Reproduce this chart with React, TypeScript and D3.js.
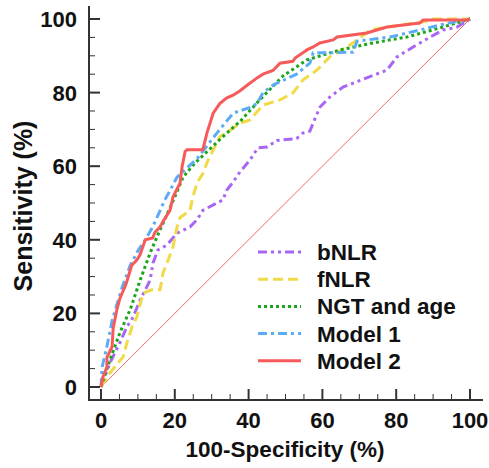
import React from "react";
import * as d3 from "d3";

const xTicks = [0, 20, 40, 60, 80, 100];
const yTicks = [0, 20, 40, 60, 80, 100];

const seriesNames = ["bNLR", "fNLR", "NGT and age", "Model 1", "Model 2"];
const seriesColors = ["#a866f2", "#f0da48", "#1aa61a", "#5cabf5", "#f75a5a"];
const seriesDash = ["9,4,3,4,3,4", "10,5", "3,3", "9,4,3,4", ""];

const bNLR_x = [0, 2.4, 5.1, 7, 8.7, 10.6, 13.3, 14.1, 15.4, 17.9, 20.6, 24.1, 26, 27.6, 28.7, 31.4, 33, 34.1, 35.8, 37.7, 40.4, 42.5, 45, 47.7, 53, 54.7, 56.6, 57.5, 59.3, 62, 65.6, 72, 77.5, 80.2, 84.6, 89.2, 92.7, 96.5, 100];
const bNLR_y = [0, 6.5, 12, 16.3, 19, 23.6, 29, 33.7, 37.2, 38.6, 41.8, 43.5, 45.4, 48, 48.6, 50, 50.8, 53.5, 55.7, 58.5, 61.7, 65, 65.2, 67, 67.5, 69, 69.5, 71.7, 76, 78.8, 81.5, 84, 86.1, 89.7, 92.4, 95.1, 97, 97.8, 100];

const fNLR_x = [0, 2.4, 6, 7, 8.4, 9.7, 11.4, 13.8, 16, 16.8, 18.2, 19.5, 20.6, 21.4, 24.1, 24.9, 26, 27.6, 28.7, 30.4, 32.2, 35, 37.7, 40.4, 43.9, 48.5, 52, 54.7, 58.5, 62, 66.7, 69.4, 73, 76.4, 89, 90, 100];
const fNLR_y = [0, 3.8, 8.2, 12, 16.3, 19, 25.5, 26.4, 26.4, 31, 34.5, 38, 43.5, 46, 48, 51.6, 55.4, 58, 60.9, 64.4, 68, 69.8, 71.7, 72.6, 76.6, 78, 79.9, 83.4, 86.1, 89.7, 92.4, 94.3, 97, 97.6, 99.5, 100, 100];

const ngt_x = [0, 2.4, 5.1, 7.9, 10.6, 13.3, 16, 20, 22.2, 25.5, 28.7, 33, 37.7, 43, 49.3, 55.8, 64.8, 73.7, 82.9, 91.9, 100];
const ngt_y = [0, 7.3, 14.7, 21, 29, 36.4, 42.7, 51.6, 57, 60.9, 63.9, 68, 72.2, 78, 84.5, 88.9, 91.6, 93.5, 95.1, 97.6, 100];

const m1_x = [0, 0.3, 1.6, 3, 5.7, 7.9, 10, 12, 14, 17.3, 20.6, 23.6, 26, 28.7, 31.4, 33.6, 35.8, 40.4, 42.3, 43.9, 46.6, 47.7, 53, 56.6, 57.5, 58.5, 62, 68.3, 69.4, 72, 78.3, 86.4, 91.9, 100];
const m1_y = [0, 5.4, 11, 18, 27, 33, 37, 40, 43.5, 50.8, 57, 59.8, 62, 65.5, 69, 71.7, 74.4, 76, 77, 80, 82, 82.6, 85, 88, 90.8, 90.8, 90.8, 91, 94, 94.3, 95.1, 97, 98.4, 100];

const m2_x = [0, 0.5, 1.6, 1.6, 3, 3.3, 4.3, 5.1, 6.8, 8.3, 9.7, 10.6, 12, 14, 14.6, 16, 16.8, 18.7, 19.5, 21.4, 22, 22.8, 23.3, 27.6, 28.7, 30.4, 32.2, 34, 35.8, 37.7, 39.6, 42.3, 43.9, 46.6, 48.5, 52, 52.6, 54.7, 55.8, 57.5, 59.3, 62.9, 64, 72, 77.5, 86.4, 87.3, 99, 100];
const m2_y = [0, 2.7, 5.4, 8, 11, 16, 21, 24, 28, 33, 34.5, 36, 40, 40.5, 42, 43.5, 45, 48, 51.6, 55.4, 60, 64, 64.5, 64.5, 69, 74.4, 77, 78.5, 79.3, 80.5, 82, 84, 85, 86, 88, 88.5, 89.4, 90.8, 91.6, 92.4, 93.5, 94.3, 95.1, 96.2, 97.8, 98.9, 99.7, 99.7, 100];

const seriesX = [bNLR_x, fNLR_x, ngt_x, m1_x, m2_x];
const seriesY = [bNLR_y, fNLR_y, ngt_y, m1_y, m2_y];

const W = 489;
const H = 468;
const FONT = "'Liberation Sans', Arial, sans-serif";

export default function App() {
  const x = d3.scaleLinear().domain([0, 100]).range([101, 470]);
  const y = d3.scaleLinear().domain([0, 100]).range([387, 19]);
  const axisX = 89;
  const axisY = 400;
  const minor = d3.range(0, 101, 5);

  const line = d3
    .line<[number, number]>()
    .x((d) => x(d[0]))
    .y((d) => y(d[1]));

  return (
    <svg
      width={W}
      height={H}
      style={{ position: "absolute", left: 0, top: 0, background: "#fff" }}
      fontFamily={FONT}
      fontWeight="bold"
    >
      <rect width={W} height={H} fill="#fff" />
      {/* diagonal */}
      <line x1={x(0)} y1={y(0)} x2={x(100)} y2={y(100)} stroke="#f26a6a" strokeWidth={1} />
      {/* curves */}
      {seriesNames.map((n, i) => {
        const pts = seriesX[i].map((v, k) => [v, seriesY[i][k]] as [number, number]);
        return (
          <path
            key={n}
            d={line(pts) || ""}
            fill="none"
            stroke={seriesColors[i]}
            strokeWidth={3}
            strokeDasharray={seriesDash[i] || undefined}
          />
        );
      })}
      {/* axes */}
      <line x1={axisX} y1={6} x2={axisX} y2={axisY + 1} stroke="#333" strokeWidth={2} />
      <line x1={axisX - 1} y1={axisY} x2={483} y2={axisY} stroke="#333" strokeWidth={2} />
      {minor.map((v) => {
        const major = v % 20 === 0;
        return (
          <g key={"t" + v}>
            <line x1={axisX} x2={axisX + (major ? 11 : 6)} y1={y(v)} y2={y(v)} stroke="#333" strokeWidth={major ? 2 : 1} />
            <line y1={axisY} y2={axisY - (major ? 11 : 6)} x1={x(v)} x2={x(v)} stroke="#333" strokeWidth={major ? 2 : 1} />
          </g>
        );
      })}
      {yTicks.map((v) => (
        <text key={"yl" + v} x={77} y={y(v) + 8} textAnchor="end" fontSize={22} fill="#111">
          {v}
        </text>
      ))}
      {xTicks.map((v) => (
        <text key={"xl" + v} x={x(v)} y={428} textAnchor="middle" fontSize={22} fill="#111">
          {v}
        </text>
      ))}
      <text x={285} y={457} textAnchor="middle" fontSize={22.5} fill="#111">
        100-Specificity (%)
      </text>
      <text
        transform={`translate(32,206) rotate(-90)`}
        textAnchor="middle"
        fontSize={25}
        fill="#111"
      >
        Sensitivity (%)
      </text>
      {/* legend */}
      {seriesNames.map((n, i) => {
        const ly = 252 + i * 27.2;
        return (
          <g key={"lg" + n}>
            <line x1={258} x2={301} y1={ly} y2={ly} stroke={seriesColors[i]} strokeWidth={3} strokeDasharray={seriesDash[i] || undefined} />
            <text x={317} y={ly + 8} fontSize={22.5} fill="#111">
              {n}
            </text>
          </g>
        );
      })}
    </svg>
  );
}
